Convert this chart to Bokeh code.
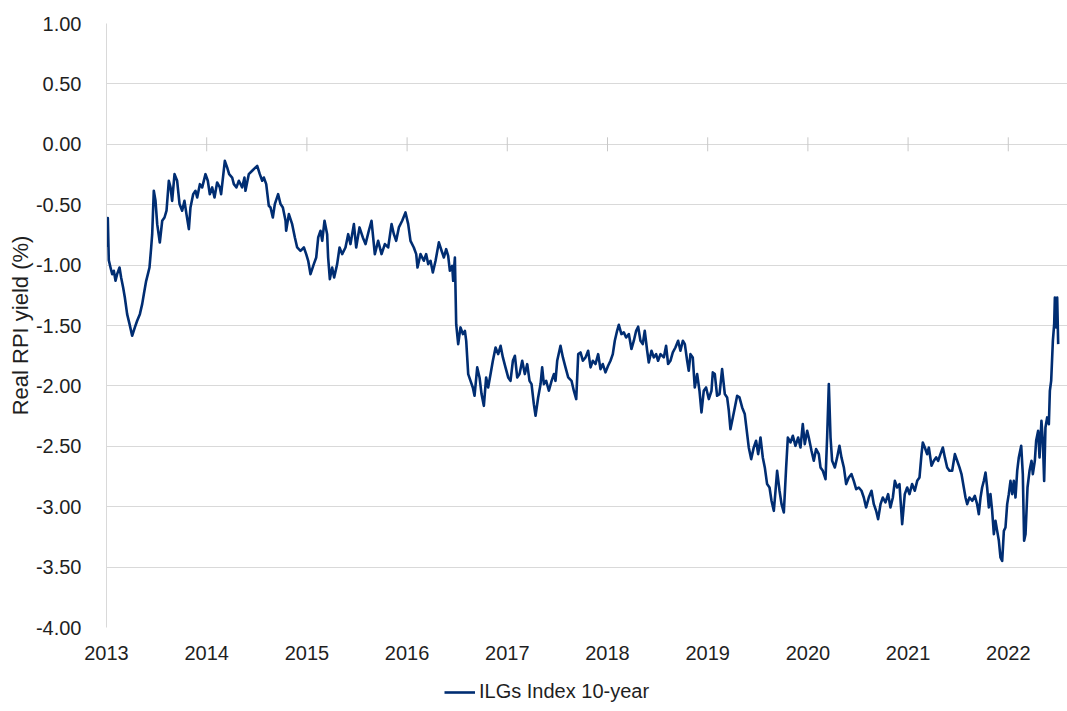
import math
from bokeh.plotting import figure
from bokeh.layouts import column
from bokeh.models import Range1d, FixedTicker, NumeralTickFormatter, Legend, LegendItem
from bokeh.embed import file_html
from bokeh.resources import INLINE

# ---- data (decimal years since 2013, real RPI yield %) ----
years_2013_14 = [0.000, 0.013, 0.023, 0.040, 0.057, 0.073, 0.090, 0.106, 0.130, 0.146, 0.166, 0.183, 0.206, 0.230,
                 0.256, 0.283, 0.306, 0.333, 0.356, 0.373, 0.396, 0.413, 0.429, 0.446, 0.456, 0.472, 0.489, 0.506,
                 0.532, 0.556, 0.579, 0.599, 0.622, 0.639, 0.655, 0.679, 0.705, 0.729, 0.755, 0.778, 0.798, 0.822,
                 0.838, 0.865, 0.888, 0.905, 0.932, 0.955, 0.988, 1.011, 1.031, 1.055, 1.078, 1.104, 1.131, 1.144,
                 1.181, 1.204, 1.224, 1.254, 1.271, 1.297, 1.321, 1.354, 1.377, 1.387, 1.420, 1.454, 1.504, 1.530,
                 1.554, 1.570, 1.594, 1.620]
yields_2013_14 = [-0.85, -0.61, -0.96, -1.02, -1.075, -1.047, -1.13, -1.075, -1.02, -1.102, -1.185, -1.268, -1.406, -1.489,
                  -1.585, -1.516, -1.461, -1.406, -1.323, -1.24, -1.13, -1.075, -1.02, -0.854, -0.744, -0.385, -0.468, -0.661,
                  -0.813, -0.633, -0.606, -0.55, -0.302, -0.357, -0.468, -0.247, -0.302, -0.495, -0.55, -0.468, -0.578, -0.702,
                  -0.523, -0.413, -0.385, -0.44, -0.33, -0.357, -0.247, -0.302, -0.413, -0.357, -0.44, -0.316, -0.357, -0.413,
                  -0.137, -0.192, -0.247, -0.275, -0.33, -0.357, -0.302, -0.357, -0.275, -0.385, -0.247, -0.219, -0.178, -0.247,
                  -0.302, -0.275, -0.33, -0.509]

years_2014_16 = [1.637, 1.660, 1.680, 1.713, 1.737, 1.760, 1.787, 1.793, 1.820, 1.853, 1.880, 1.903, 1.936, 1.970,
                 1.993, 2.013, 2.036, 2.069, 2.093, 2.113, 2.136, 2.153, 2.176, 2.202, 2.212, 2.229, 2.252, 2.272,
                 2.302, 2.326, 2.352, 2.385, 2.412, 2.435, 2.469, 2.492, 2.525, 2.558, 2.585, 2.618, 2.645, 2.678,
                 2.711, 2.745, 2.778, 2.811, 2.845, 2.868, 2.891, 2.918, 2.951, 2.984, 3.011, 3.034, 3.067, 3.091,
                 3.104, 3.134, 3.167, 3.190]
yields_2014_16 = [-0.523, -0.606, -0.495, -0.413, -0.495, -0.523, -0.633, -0.716, -0.578, -0.661, -0.771, -0.854, -0.882, -0.854,
                  -0.909, -0.964, -1.075, -0.992, -0.937, -0.771, -0.716, -0.799, -0.633, -0.744, -0.937, -1.116, -1.02, -1.102,
                  -0.992, -0.854, -0.909, -0.854, -0.744, -0.826, -0.661, -0.854, -0.688, -0.771, -0.826, -0.716, -0.633, -0.909,
                  -0.799, -0.909, -0.826, -0.854, -0.661, -0.744, -0.799, -0.688, -0.633, -0.564, -0.661, -0.799, -0.854, -0.909,
                  -1.02, -0.909, -0.964, -0.909]

years_2016_17 = [3.211, 3.234, 3.257, 3.284, 3.317, 3.344, 3.367, 3.390, 3.410, 3.427, 3.450, 3.460, 3.477, 3.490,
                 3.510, 3.533, 3.557, 3.577, 3.590, 3.610, 3.633, 3.656, 3.673, 3.700, 3.723, 3.743, 3.766, 3.789,
                 3.809, 3.833, 3.856, 3.883, 3.909, 3.933, 3.956, 3.982, 4.009, 4.032, 4.056, 4.076, 4.099, 4.122,
                 4.149, 4.175, 4.199, 4.222, 4.242, 4.265, 4.282, 4.308, 4.332, 4.348, 4.365, 4.388, 4.415, 4.442,
                 4.465, 4.481, 4.498, 4.531, 4.555, 4.581, 4.608, 4.641, 4.664, 4.688, 4.708, 4.731, 4.754, 4.781,
                 4.807, 4.831, 4.854]
yields_2016_17 = [-0.992, -0.964, -1.061, -0.964, -0.812, -0.881, -0.937, -0.868, -0.923, -1.047, -1.006, -1.13, -0.937, -1.489,
                  -1.654, -1.516, -1.571, -1.544, -1.627, -1.902, -1.958, -2.013, -2.082, -1.847, -1.93, -2.068, -2.165, -1.93,
                  -2.013, -1.902, -1.792, -1.682, -1.737, -1.668, -1.764, -1.847, -1.93, -1.958, -1.792, -1.751, -1.93, -1.902,
                  -1.792, -1.902, -1.82, -1.958, -1.985, -2.151, -2.247, -2.096, -1.985, -1.847, -1.985, -1.958, -2.04, -1.958,
                  -1.902, -1.958, -1.792, -1.668, -1.764, -1.847, -1.93, -1.958, -2.04, -2.109, -1.737, -1.723, -1.792, -1.764,
                  -1.709, -1.847, -1.792]

years_2017_19 = [4.880, 4.907, 4.930, 4.953, 4.980, 5.006, 5.030, 5.053, 5.073, 5.096, 5.113, 5.139, 5.163, 5.186,
                 5.213, 5.239, 5.263, 5.286, 5.306, 5.329, 5.352, 5.372, 5.396, 5.412, 5.439, 5.462, 5.485, 5.505,
                 5.529, 5.562, 5.585, 5.605, 5.628, 5.652, 5.678, 5.705, 5.728, 5.752, 5.772, 5.795, 5.811, 5.828,
                 5.851, 5.871, 5.895, 5.918, 5.938, 5.961, 5.984, 6.011, 6.038, 6.051, 6.071, 6.094, 6.118, 6.144,
                 6.171, 6.194, 6.211, 6.227, 6.251, 6.271, 6.294, 6.317, 6.344, 6.370, 6.394, 6.410, 6.434, 6.460,
                 6.483]
yields_2017_19 = [-1.819, -1.737, -1.861, -1.819, -1.888, -1.833, -1.792, -1.737, -1.626, -1.544, -1.494, -1.571, -1.557, -1.599,
                  -1.571, -1.695, -1.626, -1.544, -1.51, -1.626, -1.654, -1.544, -1.709, -1.806, -1.709, -1.764, -1.737, -1.792,
                  -1.737, -1.764, -1.668, -1.819, -1.792, -1.723, -1.682, -1.626, -1.709, -1.626, -1.654, -1.792, -1.875, -1.737,
                  -1.764, -2.013, -1.902, -2.04, -2.22, -2.04, -2.013, -2.109, -2.04, -1.888, -1.902, -2.082, -2.068, -1.861,
                  -2.068, -2.095, -2.206, -2.358, -2.261, -2.178, -2.082, -2.095, -2.178, -2.233, -2.399, -2.509, -2.606, -2.509,
                  -2.454]

years_2019_21 = [6.504, 6.527, 6.550, 6.570, 6.593, 6.617, 6.637, 6.660, 6.677, 6.693, 6.717, 6.737, 6.760, 6.783,
                 6.800, 6.826, 6.850, 6.876, 6.903, 6.926, 6.949, 6.969, 6.993, 7.009, 7.036, 7.059, 7.082, 7.109,
                 7.126, 7.149, 7.176, 7.192, 7.209, 7.226, 7.242, 7.269, 7.292, 7.315, 7.335, 7.359, 7.382, 7.408,
                 7.435, 7.458, 7.482, 7.508, 7.535, 7.558, 7.581, 7.608, 7.635, 7.658, 7.681, 7.701, 7.725, 7.748,
                 7.774, 7.801, 7.824, 7.848, 7.868, 7.891, 7.914, 7.941, 7.967, 7.991, 8.014, 8.040, 8.067]
yields_2019_21 = [-2.565, -2.427, -2.592, -2.675, -2.813, -2.841, -2.951, -3.034, -2.868, -2.703, -2.868, -2.979, -3.048, -2.675,
                  -2.427, -2.468, -2.413, -2.496, -2.427, -2.51, -2.316, -2.482, -2.372, -2.427, -2.537, -2.62, -2.523, -2.565,
                  -2.675, -2.703, -2.772, -2.427, -1.985, -2.427, -2.62, -2.675, -2.592, -2.496, -2.592, -2.675, -2.813, -2.758,
                  -2.73, -2.786, -2.855, -2.841, -2.868, -2.924, -3.006, -2.924, -2.868, -2.979, -3.034, -3.103, -2.979, -2.924,
                  -2.965, -2.896, -3.006, -2.924, -2.786, -2.841, -2.813, -3.144, -2.896, -2.841, -2.896, -2.813, -2.868]

years_2021_22 = [8.091, 8.114, 8.134, 8.147, 8.167, 8.190, 8.207, 8.234, 8.257, 8.280, 8.300, 8.323, 8.347, 8.367,
                 8.390, 8.413, 8.440, 8.467, 8.490, 8.513, 8.533, 8.556, 8.573, 8.590, 8.613, 8.640, 8.666, 8.689,
                 8.706, 8.723, 8.739, 8.756, 8.773, 8.789, 8.806, 8.822, 8.839, 8.856, 8.872, 8.889, 8.906, 8.922,
                 8.939, 8.956, 8.972, 8.989, 9.005, 9.022, 9.039, 9.055, 9.072, 9.089, 9.105, 9.129, 9.145, 9.158,
                 9.172, 9.192, 9.212, 9.232, 9.245, 9.265, 9.278, 9.298, 9.312, 9.331, 9.345, 9.358, 9.371, 9.388,
                 9.405, 9.415, 9.428, 9.445, 9.458, 9.465, 9.478, 9.488, 9.498]
yields_2021_22 = [-2.786, -2.758, -2.565, -2.468, -2.51, -2.565, -2.51, -2.661, -2.62, -2.592, -2.62, -2.565, -2.51, -2.592,
                  -2.675, -2.703, -2.703, -2.565, -2.62, -2.675, -2.73, -2.841, -2.924, -2.979, -2.924, -2.951, -2.91, -2.979,
                  -3.062, -2.924, -2.841, -2.786, -2.717, -2.841, -3.006, -2.896, -3.034, -3.227, -3.117, -3.2, -3.282, -3.42,
                  -3.448, -3.2, -3.172, -2.979, -2.896, -2.786, -2.896, -2.786, -2.924, -2.703, -2.592, -2.496, -2.73, -3.282,
                  -3.227, -2.841, -2.703, -2.62, -2.73, -2.62, -2.455, -2.372, -2.592, -2.289, -2.455, -2.786, -2.344, -2.261,
                  -2.317, -2.041, -1.958, -1.627, -1.489, -1.268, -1.516, -1.268, -1.654]

start_year = 2013
year_ticks = [2013, 2014, 2015, 2016, 2017, 2018, 2019, 2020, 2021, 2022]
y_ticks = [-4.0, -3.5, -3.0, -2.5, -2.0, -1.5, -1.0, -0.5, 0.0, 0.5, 1.0]
series_name = "ILGs Index 10-year"
y_title = "Real RPI yield (%)"

offsets = (years_2013_14 + years_2014_16 + years_2016_17 + years_2017_19 + years_2019_21 + years_2021_22)
yields = (yields_2013_14 + yields_2014_16 + yields_2016_17 + yields_2017_19 + yields_2019_21 + yields_2021_22)
xs = [start_year + o for o in offsets]

FONT = "Liberation Sans"
TEXT = "#1f1f1f"
GRID = "#d9d9d9"
NAVY = "#002D72"
LINE_W = 2.6

MAIN_H = 668
LEG_H = 711 - MAIN_H

p = figure(width=1067, height=MAIN_H, output_backend="svg", toolbar_location=None,
           x_range=Range1d(2013.0, 2022.591), y_range=Range1d(-4.0, 1.0),
           min_border_left=106, min_border_right=0, min_border_top=23, min_border_bottom=MAIN_H - 23 - 604)
p.outline_line_color = None
p.background_fill_color = "white"
p.border_fill_color = "white"

# grid
p.xgrid.grid_line_color = None
p.ygrid.ticker = FixedTicker(ticks=y_ticks)
p.ygrid.grid_line_color = GRID
p.ygrid.grid_line_width = 1

# y axis
p.yaxis.ticker = FixedTicker(ticks=y_ticks)
p.yaxis.formatter = NumeralTickFormatter(format="0.00")
p.yaxis.axis_line_color = GRID
p.yaxis.major_tick_line_color = None
p.yaxis.minor_tick_line_color = None
p.yaxis.major_label_standoff = 19
p.yaxis.major_label_text_font = FONT
p.yaxis.major_label_text_font_size = "20px"
p.yaxis.major_label_text_color = TEXT
p.yaxis.axis_label = y_title
p.yaxis.axis_label_text_font = FONT
p.yaxis.axis_label_text_font_size = "22px"
p.yaxis.axis_label_text_font_style = "normal"
p.yaxis.axis_label_text_color = TEXT
p.yaxis.axis_label_standoff = 0

# x axis (labels at bottom, line crosses at zero)
p.xaxis.ticker = FixedTicker(ticks=year_ticks)
p.xaxis.formatter = NumeralTickFormatter(format="0")
p.xaxis.axis_line_color = None
p.xaxis.major_tick_line_color = None
p.xaxis.minor_tick_line_color = None
p.xaxis.major_label_standoff = 12
p.xaxis.major_label_text_font = FONT
p.xaxis.major_label_text_font_size = "20px"
p.xaxis.major_label_text_color = TEXT

# tick marks on the zero-crossing horizontal axis
p.scatter(x=year_ticks[1:], y=[0.0] * (len(year_ticks) - 1), marker="dash", size=14,
          angle=math.pi / 2, line_color="#c8c8c8", line_width=1)

p.line(xs, yields, line_color=NAVY, line_width=LINE_W, line_join="round")

# ---- legend strip under the chart (its frame is aligned with the chart frame) ----
lf = figure(width=1067, height=LEG_H, output_backend="svg", toolbar_location=None,
            x_range=Range1d(0, 1), y_range=Range1d(0, 1),
            x_axis_type=None, y_axis_type=None, min_border=0)
lf.outline_line_color = None
lf.xgrid.grid_line_color = None
lf.ygrid.grid_line_color = None
proxy = lf.line(xs, yields, line_color=NAVY, line_width=LINE_W)  # out of view; used for the legend key

legend = Legend(items=[LegendItem(label=series_name, renderers=[proxy])],
                location=(338, 8), orientation="horizontal",
                border_line_color=None, background_fill_alpha=0,
                padding=0, margin=0, spacing=0,
                glyph_width=31, glyph_height=20, label_standoff=4,
                label_text_font=FONT, label_text_font_size="20px", label_text_color=TEXT)
lf.add_layout(legend)

layout = column(p, lf, spacing=0)
open("out.html", "w").write(file_html(layout, INLINE))
